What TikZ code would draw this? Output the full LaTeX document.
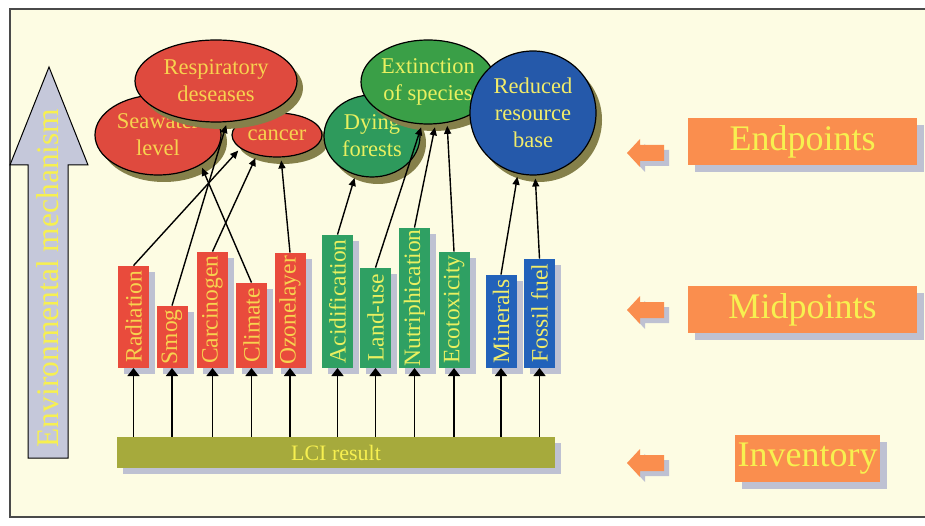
\documentclass[tikz,border=0pt]{standalone}
\usepackage{fontspec}
\setmainfont{Liberation Serif}
\usetikzlibrary{shapes.geometric,arrows.meta}
\definecolor{cream}{HTML}{FDFCE3}
\definecolor{framegray}{HTML}{4A4A4A}
\definecolor{ellred}{HTML}{DF4A3E}
\definecolor{barred}{HTML}{E94B3C}
\definecolor{ellgreen}{HTML}{3A9F47}
\definecolor{ellteal}{HTML}{2E9A5C}
\definecolor{bargreen}{HTML}{2FA063}
\definecolor{ellblue}{HTML}{2559AA}
\definecolor{barblue}{HTML}{2262BA}
\definecolor{shadowol}{HTML}{85804A}
\definecolor{bshadow}{HTML}{BEC1D2}
\definecolor{orangebox}{HTML}{FA8E4E}
\definecolor{lciolive}{HTML}{A6AA3C}
\definecolor{arrowgray}{HTML}{C5C8DA}
\definecolor{txtred}{HTML}{F7D24F}
\definecolor{txtgreen}{HTML}{E9F060}
\definecolor{txtblue}{HTML}{F2EC6A}
\definecolor{txtor}{HTML}{F7F050}
\tikzset{
  barbox/.style={rectangle, rotate=90, anchor=west, minimum height=31pt, inner sep=0pt,
    font=\fontsize{23.5}{23.5}\selectfont},
  ell/.style={ellipse, draw=black, line width=1.2pt, inner sep=0pt, align=center,
    font=\fontsize{22.5}{27}\selectfont},
  ellshadow/.style={ellipse, fill=shadowol, inner sep=0pt},
  conn/.style={draw=black, line width=1.4pt, -{Triangle[length=8pt,width=7pt]}, shorten >=3pt},
  upconn/.style={draw=black, line width=1.4pt, -{Triangle[length=8pt,width=12pt]}},
  lvlbox/.style={rectangle, fill=orangebox, text=txtor, inner sep=0pt,
    font=\fontsize{36}{36}\selectfont},
  lvlshadow/.style={rectangle, fill=bshadow, inner sep=0pt}
}
\begin{document}
\begin{tikzpicture}[x=1pt,y=-1pt]
\useasboundingbox (0,0) rectangle (925,526);
\fill[white] (0,0) rectangle (925,526);
\fill[cream] (10,9) rectangle (925,517);
\draw[framegray, line width=1.3pt] (925,9) -- (10,9) -- (10,517) -- (925,517);

% environmental mechanism arrow
\filldraw[fill=arrowgray, draw=black, line width=1pt]
  (28,458) -- (28,165) -- (10,165) -- (49,67) -- (88,165) -- (68,165) -- (68,458) -- cycle;
\node[rotate=90, text=txtor, inner sep=0pt, font=\fontsize{31.5}{31.5}\selectfont] (env) at (48,278) {Environmental mechanism};

% red endpoints
\node[ellshadow, minimum width=126pt, minimum height=80pt] at (164,142) {};
\node[ell, fill=ellred, text=txtred, minimum width=126pt, minimum height=80pt] (sea) at (158,135) {Seawater\\level};
\node[ellshadow, minimum width=90pt, minimum height=44pt] at (283,142) {};
\node[ell, fill=ellred, text=txtred, minimum width=90pt, minimum height=44pt] (cancer) at (277,135) {cancer};
\node[ellshadow, minimum width=162pt, minimum height=82pt] at (222,88) {};
\node[ell, fill=ellred, text=txtred, minimum width=162pt, minimum height=82pt] (resp) at (216,81) {Respiratory\\deseases};

% green / blue endpoints
\node[ellshadow, minimum width=96pt, minimum height=82pt] at (378,143) {};
\node[ell, fill=ellteal, text=txtgreen, minimum width=96pt, minimum height=82pt] (dying) at (372,136) {Dying\\forests};
\node[ellshadow, minimum width=134pt, minimum height=84pt] at (434,89) {};
\node[ell, fill=ellgreen, text=txtgreen, minimum width=134pt, minimum height=84pt] (ext) at (428,82) {Extinction\\of species};
\node[ellshadow, minimum width=126pt, minimum height=124pt] at (539,120) {};
\node[ell, fill=ellblue, text=txtblue, minimum width=126pt, minimum height=124pt] (red) at (533,113) {Reduced\\resource\\base};

% midpoint bars
\foreach \n/\x/\l/\c/\t/\s in {
  rad/133.5/102/barred/txtred/Radiation,
  smog/172/62/barred/txtred/Smog,
  carc/212.5/116/barred/txtred/Carcinogen,
  clim/251.5/85/barred/txtred/Climate,
  ozon/290/115/barred/txtred/Ozonelayer,
  acid/337.5/133/bargreen/txtgreen/Acidification,
  land/375.5/100/bargreen/txtgreen/Land-use,
  nutr/414.5/140/bargreen/txtgreen/Nutriphication,
  ecot/454/116/bargreen/txtgreen/Ecotoxicity,
  mine/501/93/barblue/txtblue/Minerals,
  foss/539.5/109/barblue/txtblue/Fossil fuel}{
  \node[barbox, fill=bshadow, minimum width=\l pt] at (\x+6,374) {};
  \node[barbox, fill=\c, text=\t, minimum width=\l pt] (\n) at (\x,368) {\s};
}

% LCI result
\fill[bshadow] (123,443) rectangle (561,474);
\node[rectangle, fill=lciolive, text=txtor, inner sep=0pt, minimum width=438pt, minimum height=31pt,
  font=\fontsize{22}{22}\selectfont] (lci) at (336,452.5) {LCI result};

\foreach \n in {rad,smog,carc,clim,ozon,acid,land,nutr,ecot,mine,foss}
  \draw[upconn] (lci.north -| \n.west) -- (\n.west);

% midpoint to endpoint connectors
\draw[conn] (rad.east) -- (cancer.200);
\draw[conn] (smog.east) -- (resp.285);
\draw[conn] (carc.east) -- (cancer.225);
\draw[conn] (clim.east) -- (sea.325);
\draw[conn] (ozon.east) -- (cancer.280);
\draw[conn] (acid.east) -- (dying.247);
\draw[conn] (land.east) -- (ext.262);
\draw[conn] (nutr.east) -- (ext.280);
\draw[conn] (ecot.east) -- (ext.295);
\draw[conn] (mine.east) -- (red.256);
\draw[conn] (foss.east) -- (red.272);

% level labels
\foreach \n/\cx/\cy/\w/\s in {endp/802.5/141.5/229/Endpoints, midp/802.5/309.5/229/Midpoints, invp/807.5/458.5/145/Inventory}{
  \node[lvlshadow, minimum width=\w pt, minimum height=47pt] at (\cx+7,\cy+7) {};
  \node[lvlbox, minimum width=\w pt, minimum height=47pt] (\n) at (\cx,\cy) {\s};
}
\foreach \y in {153,310,463}{
  \fill[bshadow] (632,\y+5) -- (645,\y-9) -- (645,\y-3) -- (669,\y-3) -- (669,\y+13) -- (645,\y+13) -- (645,\y+19) -- cycle;
  \fill[orangebox] (627,\y) -- (640,\y-14) -- (640,\y-8) -- (664,\y-8) -- (664,\y+8) -- (640,\y+8) -- (640,\y+14) -- cycle;
}
\end{tikzpicture}
\end{document}
